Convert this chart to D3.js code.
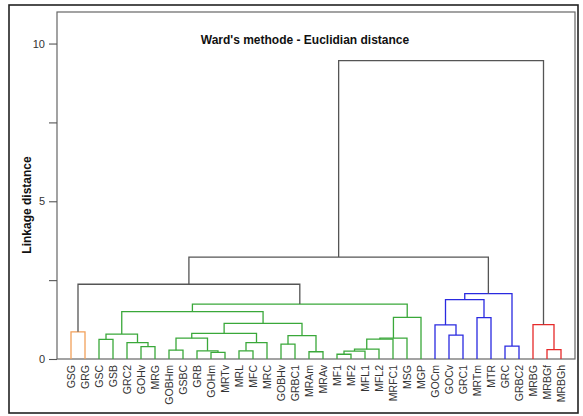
<!DOCTYPE html>
<html><head><meta charset="utf-8">
<script src="https://cdn.jsdelivr.net/npm/d3@7"></script>
<style>body{margin:0;background:#fff}svg{display:block}</style>
</head><body>
<svg id="c" width="583" height="416"></svg>
<script>
const leaves = ["GSG","GRG","GSC","GSB","GRC2","GOHv","MRG","GOBHm","GSBC","GRB","GOHm","MRTv","MRL","MFC","MRC","GOBHv","GRBC1","MRAm","MRAv","MF1","MF2","MFL1","MFL2","MRFC1","MSG","MGP","GOCm","GOCv","GRC1","MRTm","MTR","GRC","GRBC2","MRBG","MRBGf","MRBGh"];
// merges: [left child, right child, linkage distance]; "nK" = K-th merge
const merges = [
  ["MRBGf","MRBGh",0.30],["MRBG","n0",1.09],["GSG","GRG",0.86],["GSC","GSB",0.62],
  ["GOHv","MRG",0.39],["GRC2","n4",0.52],["n3","n5",0.79],["GOBHm","GSBC",0.28],
  ["GOHm","MRTv",0.21],["GRB","n8",0.26],["n7","n9",0.66],["MRL","MFC",0.26],
  ["n11","MRC",0.52],["n10","n12",0.81],["GOBHv","GRBC1",0.47],["MRAm","MRAv",0.23],
  ["n14","n15",0.74],["n13","n16",1.13],["n6","n17",1.50],["MF1","MF2",0.15],
  ["n19","MFL1",0.25],["n20","MFL2",0.31],["n21","MRFC1",0.63],["n22","MSG",0.66],
  ["n23","MGP",1.32],["n18","n24",1.74],["n2","n25",2.37],["GOCv","GRC1",0.76],
  ["GOCm","n27",1.08],["MRTm","MTR",1.31],["n28","n29",1.88],["GRC","GRBC2",0.41],
  ["n30","n31",2.07],["n26","n32",3.23],["n33","n1",9.46]
];
const clusterRoots = ["n2","n25","n32","n1"];
const clusterColors = ["#f2a05a","#3aa83a","#2a2ae0","#e62a2a"];
const yTicks = [0,2.5,5,7.5,10];
const yLabels = ["0","","5","","10"];
const title = "Ward's methode - Euclidian distance";
const yTitle = "Linkage distance";

const svg = d3.select("#c");
const L=57,T=12,R=575,B=359;
const x = d3.scaleLinear().domain([-1, leaves.length]).range([L,R]);
const y = d3.scaleLinear().domain([0,11]).range([B,T]);

// node positions
const pos = {};
leaves.forEach((n,i)=>pos[n]={x:x(i),h:0});
merges.forEach((m,i)=>{const a=pos[m[0]],b=pos[m[1]];pos["n"+i]={x:(a.x+b.x)/2,h:m[2],kids:[m[0],m[1]]};});
// colour assignment
const color = {};
function paint(id,c){color[id]=c;const p=pos[id];if(p.kids)p.kids.forEach(k=>paint(k,c));}
clusterRoots.forEach((r,i)=>paint(r,clusterColors[i]));

svg.append("rect").attr("x",9).attr("y",5).attr("width",569).attr("height",408)
  .attr("fill","none").attr("stroke","#222").attr("stroke-width",1.6);
svg.append("rect").attr("x",L).attr("y",T).attr("width",R-L).attr("height",B-T)
  .attr("fill","none").attr("stroke","#666").attr("stroke-width",1.2);

const g = svg.append("g");
merges.forEach((m,i)=>{
  const id="n"+i,p=pos[id],a=pos[m[0]],b=pos[m[1]];
  const c=color[id]||"#555";
  g.append("path").attr("fill","none").attr("stroke",c).attr("stroke-width",1.3)
   .attr("d",`M${a.x},${y(a.h)}V${y(p.h)}H${b.x}V${y(b.h)}`);
});

// y axis ticks
const ax = svg.append("g").attr("transform",`translate(${L},0)`)
  .call(d3.axisLeft(y).tickValues(yTicks).tickSize(8).tickPadding(4).tickFormat((d,i)=>yLabels[i]));
ax.select(".domain").remove();
ax.selectAll("line").attr("stroke","#555").attr("stroke-width",1.1);
ax.selectAll("text").attr("font-family","Liberation Sans, Arial, sans-serif").attr("font-size",11).attr("fill","#333");

// leaf labels
svg.append("g").selectAll("text").data(leaves).join("text")
  .attr("transform",(d,i)=>`translate(${x(i)},365) rotate(-90)`)
  .attr("text-anchor","end").attr("dy","0.36em")
  .attr("font-family","Liberation Sans, Arial, sans-serif").attr("font-size",10.5).attr("fill","#333")
  .text(d=>d);

svg.append("text").attr("x",305).attr("y",44).attr("text-anchor","middle")
  .attr("font-family","Liberation Sans, Arial, sans-serif").attr("font-weight","bold").attr("font-size",12)
  .attr("fill","#111").text(title);
svg.append("text").attr("transform","translate(31,205) rotate(-90)").attr("text-anchor","middle")
  .attr("font-family","Liberation Sans, Arial, sans-serif").attr("font-weight","bold").attr("font-size",12)
  .attr("fill","#111").text(yTitle);
</script>
</body></html>
